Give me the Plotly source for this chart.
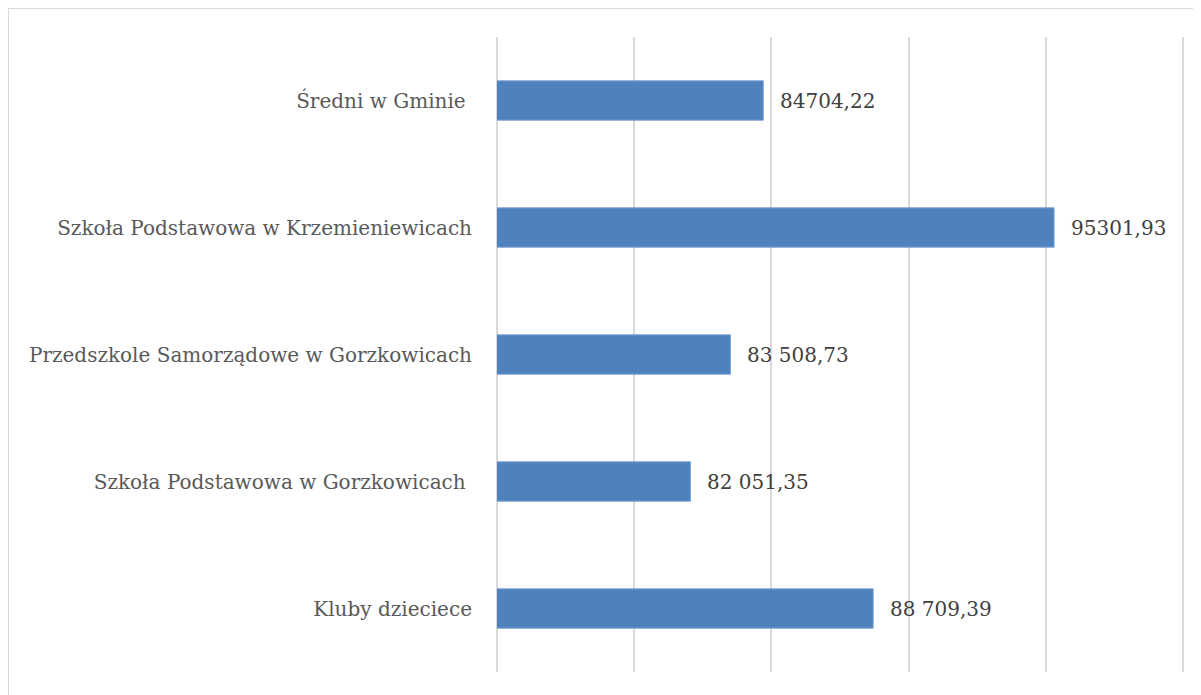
import plotly.graph_objects as go

categories = [
    "Kluby dzieciece",
    "Szkoła Podstawowa w Gorzkowicach ",
    "Przedszkole Samorządowe w Gorzkowicach",
    "Szkoła Podstawowa w Krzemieniewicach",
    "Średni w Gminie ",
]
values = [88709.39, 82051.35, 83508.73, 95301.93, 84704.22]
value_labels = ["88 709,39", "82 051,35", "83 508,73", "95301,93", "84704,22"]

OFF = 8  # browser body margin
W, H = 1201 - OFF, 695 - OFF
L, T = 497 - OFF, 37 - OFF
R = W - (1183 - OFF)
B = H - (672 - OFF)
pw, ph = W - L - R, H - T - B

def px_x(p):
    return (p - OFF - L) / pw

def px_y(p):
    return 1 - (p - OFF - T) / ph

fig = go.Figure()
fig.add_trace(go.Bar(
    y=categories, x=values, orientation="h",
    marker=dict(color="#4F81BD", line=dict(color="#7FA3D3", width=1)),
    width=0.31, hoverinfo="x+y",
))

annotations = [
    dict(x=v, y=c, xref="x", yref="y", text=t, showarrow=False,
         xanchor="left", yanchor="middle", xshift=15,
         font=dict(family="DejaVu Serif", size=20, color="#404040"))
    for c, v, t in zip(categories, values, value_labels)
]
annotations.append(
    dict(text="podstawowych", xref="paper", yref="paper",
         x=px_x(0), y=px_y(10), xanchor="left", yanchor="bottom",
         showarrow=False,
         font=dict(family="DejaVu Sans", size=20, color="#2E74B5", style="italic"))
)

fig.update_layout(
    width=W, height=H,
    margin=dict(l=L, r=R, t=T, b=B, pad=0),
    paper_bgcolor="white", plot_bgcolor="white",
    showlegend=False,
    xaxis=dict(range=[75000, 100000], dtick=5000, tick0=75000,
               showgrid=True, gridcolor="#D9D9D9", gridwidth=2,
               showticklabels=False, zeroline=False, showline=False, ticks=""),
    yaxis=dict(showgrid=False, showline=False, ticks="", zeroline=False,
               ticklabelstandoff=24,
               tickfont=dict(family="DejaVu Serif", size=20, color="#595959")),
    shapes=[
        dict(type="line", xref="paper", yref="paper", x0=0, x1=0, y0=0, y1=1,
             line=dict(color="#D9D9D9", width=2), layer="below"),
        dict(type="line", xref="paper", yref="paper", x0=1, x1=1, y0=0, y1=1,
             line=dict(color="#D9D9D9", width=2), layer="below"),
        dict(type="rect", xref="paper", yref="paper",
             x0=px_x(8), x1=px_x(1240), y0=px_y(740), y1=px_y(8),
             line=dict(color="#D9D9D9", width=2), fillcolor="rgba(0,0,0,0)"),
    ],
    annotations=annotations,
)

fig.write_html("out.html")
